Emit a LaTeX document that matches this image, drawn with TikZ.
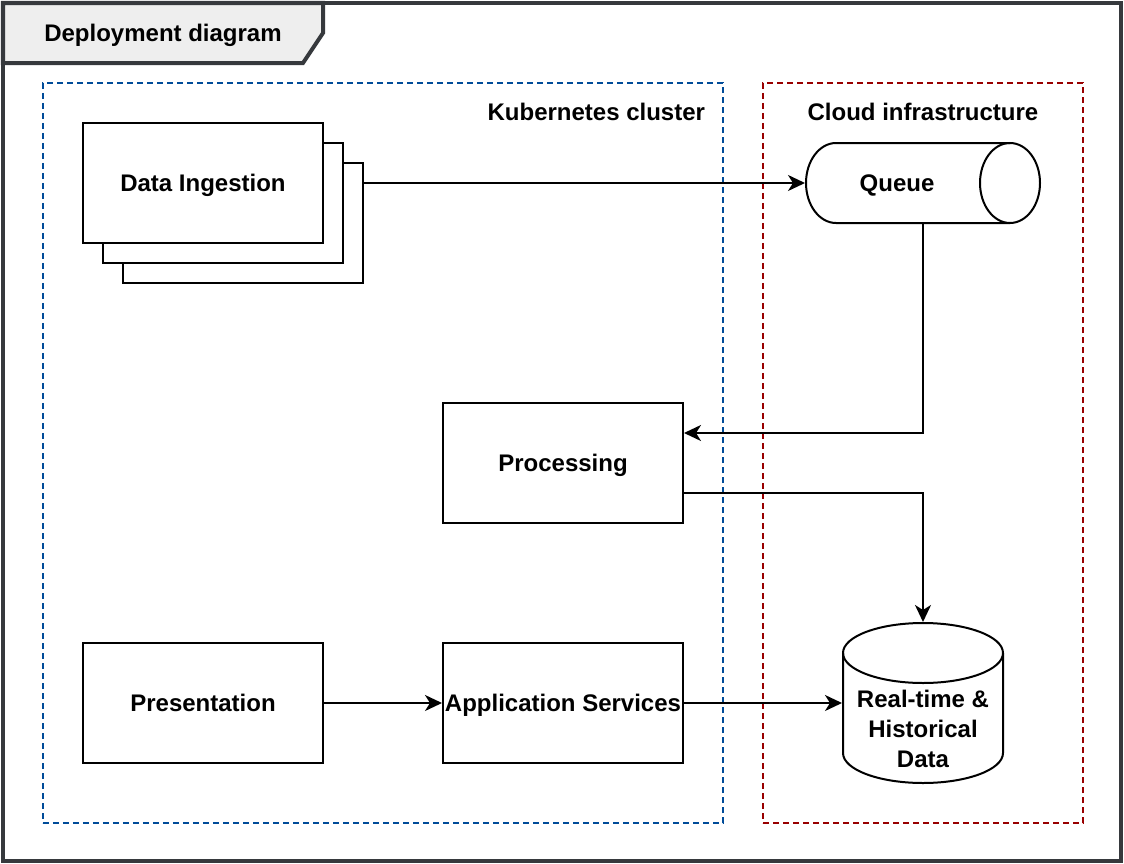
\documentclass[tikz,border=0pt]{standalone}
\usepackage{fontspec}
\setmainfont{Liberation Sans}
\usepackage{tikz}
\usetikzlibrary{arrows.meta}
\usetikzlibrary{positioning}

\definecolor{framegrey}{RGB}{54,57,61}
\definecolor{tabgrey}{RGB}{238,238,238}
\definecolor{k8sblue}{RGB}{0,76,153}
\definecolor{cloudred}{RGB}{153,0,0}

\begin{document}
\begin{tikzpicture}[x=1bp,y=1bp,
  line width=2bp,node distance=360bp,
  flow/.style={-{Stealth[length=17bp,width=16bp,inset=5bp]}},
  every node/.style={inner sep=0pt,font=\fontsize{24bp}{30bp}\selectfont\bfseries},
  comp node/.style={rectangle,draw,fill=white,minimum width=240bp,minimum height=120bp,
    text height=17bp,text depth=0bp},
  group box/.style={rectangle,draw,dash pattern=on 6bp off 4bp,minimum height=740bp}]

  \useasboundingbox (0,0) rectangle (1124,-864);

  % frame with its tab
  \draw[framegrey,line width=4bp] (3,-3) rectangle (1121,-861);
  \draw[framegrey,line width=4bp,fill=tabgrey]
    (3,-3) -- (323,-3) -- (323,-33) -- (303,-63) -- (3,-63) -- cycle;
  \node[text height=17bp,text depth=0bp] (title) at (163,-33) {Deployment diagram};

  % groups
  \node[group box,draw=k8sblue,minimum width=680bp] (cluster) at (383,-453) {};
  \node[group box,draw=cloudred,minimum width=320bp] (cloud) at (923,-453) {};
  \node[anchor=east] (clusterlabel) at (706,-112) {Kubernetes cluster};
  \node (cloudlabel) at (923,-112) {Cloud infrastructure};

  % components
  \node[comp node] (ingestback) at (243,-223) {};
  \node[comp node] (ingestmid) at (223,-203) {};
  \node[comp node] (ingest) at (203,-183) {Data Ingestion};
  \node[comp node] (present) at (203,-703) {Presentation};
  \node[comp node] (appsvc) [right of=present] {Application Services};
  \node[comp node] (process) [above of=appsvc,node distance=240bp] {Processing};

  % queue, a lying cylinder
  \node[minimum width=234bp,minimum height=80bp] (queue) at (923,-183) {};
  \draw (1010,-143) -- (836,-143) arc[start angle=90,end angle=270,x radius=30,y radius=40]
    -- (1010,-223);
  \draw (1010,-183) ellipse [x radius=30,y radius=40];
  \node[text height=17bp,text depth=0bp] (queuetext) at (897,-183) {Queue};

  % data store, a standing cylinder
  \node[minimum width=160bp,minimum height=160bp] (db) at (923,-703) {};
  \draw (843,-653) -- (843,-753) arc[start angle=180,end angle=360,x radius=80,y radius=30]
    -- (1003,-653);
  \draw (923,-653) ellipse [x radius=80,y radius=30];
  \node[align=center] (dbtext) at (923,-729) {Real-time \&\\Historical\\Data};

  \draw[flow] (ingest.east -| ingestback.east) -- (queue.west);
  \draw[flow] (queue.south) |- ([yshift=30bp]process.east);
  \draw[flow] ([yshift=-30bp]process.east) -| (db.north);
  \draw[flow] (present) -- (appsvc);
  \draw[flow] (appsvc) -- (db);
\end{tikzpicture}
\end{document}
